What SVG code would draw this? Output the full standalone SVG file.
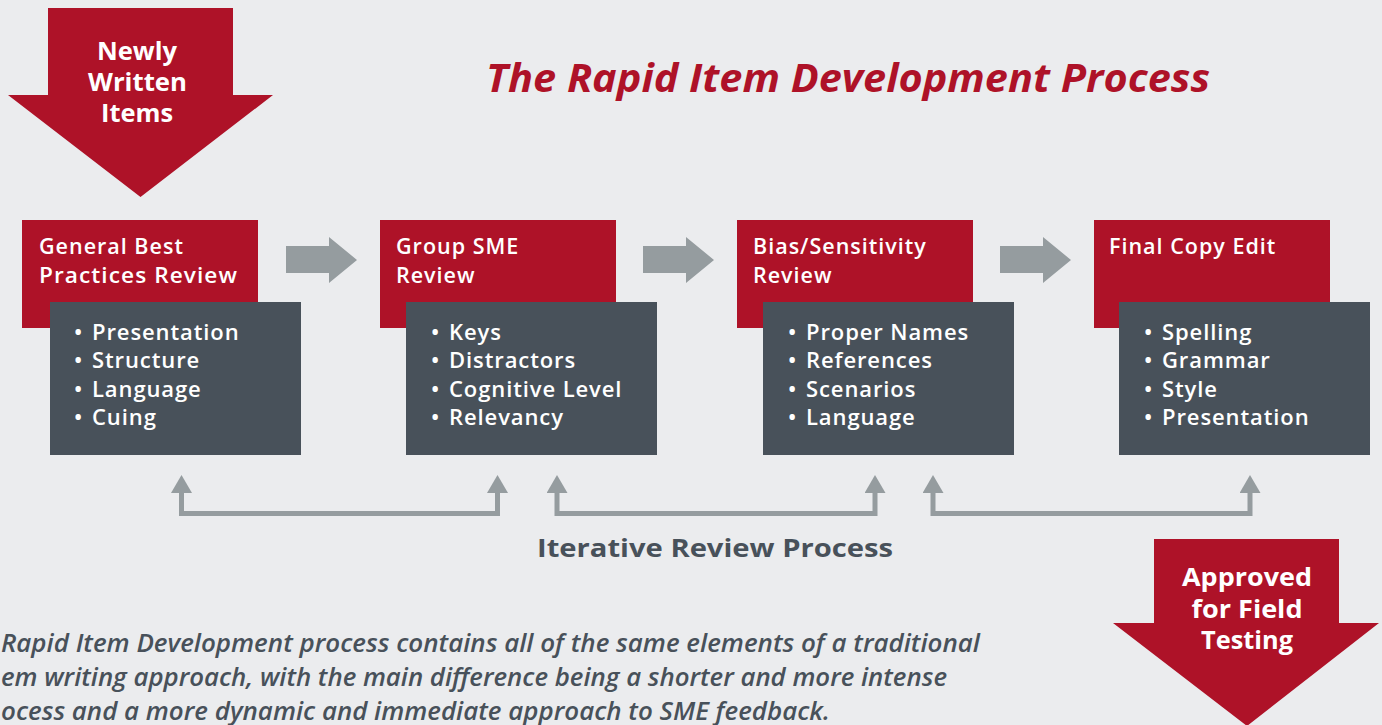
<svg xmlns="http://www.w3.org/2000/svg" width="1382" height="725" viewBox="0 0 1382 725">
<style>
.bg{fill:#ebecee}
.red{fill:#ae1228}
.dark{fill:#48515a}
.garrow{fill:#959c9f}
.head{font-family:"Open Sans","Liberation Sans",sans-serif;font-weight:600;font-size:21.5px;letter-spacing:1px;fill:#ffffff}
.bul{font-family:"Open Sans","Liberation Sans",sans-serif;font-weight:600;font-size:22px;letter-spacing:0.9px;fill:#ffffff}
.big{font-family:"Open Sans","Liberation Sans",sans-serif;font-weight:700;font-size:25px;fill:#ffffff;text-anchor:middle}
.title{font-family:"Open Sans","Liberation Sans",sans-serif;font-weight:700;font-style:italic;font-size:40px;fill:#ae1228}
.iter{font-family:"Open Sans","Liberation Sans",sans-serif;font-weight:700;font-size:25px;fill:#48515a}
.note{font-family:"Open Sans","Liberation Sans",sans-serif;font-weight:600;font-style:italic;font-size:25px;fill:#48515a}
.conn{fill:none;stroke:#959c9f;stroke-width:5}
</style>
<defs>
<marker id="up" markerUnits="userSpaceOnUse" viewBox="0 0 18 21" refX="0" refY="10.5" markerWidth="18" markerHeight="21" orient="auto-start-reverse">
<path d="M0,0 L18,10.5 L0,21 Z" fill="#959c9f"/>
</marker>
</defs>
<rect class="bg" x="0" y="0" width="1382" height="725"/>

<g id="newly-written-items">
<polygon class="red" points="48,8 233,8 233,95 273,95 140.5,197 8,95 48,95"/>
<text class="big" x="137" y="60" textLength="80" lengthAdjust="spacingAndGlyphs">Newly</text>
<text class="big" x="137.5" y="91" textLength="99" lengthAdjust="spacingAndGlyphs">Written</text>
<text class="big" x="137" y="122" textLength="72" lengthAdjust="spacingAndGlyphs">Items</text>
</g>

<g id="title">
<text class="title" x="486" y="92" textLength="724" lengthAdjust="spacingAndGlyphs">The Rapid Item Development Process</text>
</g>

<g id="step1">
<rect class="red" x="22" y="220" width="236" height="108"/>
<rect class="dark" x="50" y="302" width="251" height="153"/>
<text class="head" x="39" y="254">General Best</text>
<text class="head" x="39" y="283" textLength="199" lengthAdjust="spacingAndGlyphs">Practices Review</text>
<text class="bul" x="74" y="340">•<tspan x="92">Presentation</tspan></text>
<text class="bul" x="74" y="368">•<tspan x="92">Structure</tspan></text>
<text class="bul" x="74" y="397">•<tspan x="92">Language</tspan></text>
<text class="bul" x="74" y="425">•<tspan x="92">Cuing</tspan></text>
</g>

<g id="step2">
<rect class="red" x="380" y="220" width="236" height="108"/>
<rect class="dark" x="406" y="302" width="251" height="153"/>
<text class="head" x="396" y="254">Group SME</text>
<text class="head" x="396" y="283">Review</text>
<text class="bul" x="431" y="340">•<tspan x="449">Keys</tspan></text>
<text class="bul" x="431" y="368">•<tspan x="449">Distractors</tspan></text>
<text class="bul" x="431" y="397">•<tspan x="449">Cognitive Level</tspan></text>
<text class="bul" x="431" y="425">•<tspan x="449">Relevancy</tspan></text>
</g>

<g id="step3">
<rect class="red" x="737" y="220" width="236" height="108"/>
<rect class="dark" x="763" y="302" width="251" height="153"/>
<text class="head" x="753" y="254">Bias/Sensitivity</text>
<text class="head" x="753" y="283">Review</text>
<text class="bul" x="788" y="340">•<tspan x="806">Proper Names</tspan></text>
<text class="bul" x="788" y="368">•<tspan x="806">References</tspan></text>
<text class="bul" x="788" y="397">•<tspan x="806">Scenarios</tspan></text>
<text class="bul" x="788" y="425">•<tspan x="806">Language</tspan></text>
</g>

<g id="step4">
<rect class="red" x="1094" y="220" width="236" height="108"/>
<rect class="dark" x="1119" y="302" width="251" height="153"/>
<text class="head" x="1109" y="254">Final Copy Edit</text>
<text class="bul" x="1144" y="340">•<tspan x="1162">Spelling</tspan></text>
<text class="bul" x="1144" y="368">•<tspan x="1162">Grammar</tspan></text>
<text class="bul" x="1144" y="397">•<tspan x="1162">Style</tspan></text>
<text class="bul" x="1144" y="425">•<tspan x="1162">Presentation</tspan></text>
</g>

<g id="connectors">
<polygon class="garrow" points="286,246 329,246 329,237 357,260 329,283 329,273 286,273"/>
<polygon class="garrow" points="643,246 686,246 686,237 714,260 686,283 686,273 643,273"/>
<polygon class="garrow" points="1000,246 1043,246 1043,237 1071,260 1043,283 1043,273 1000,273"/>
<path class="conn" d="M181.5,493 V513.5 H497.5 V493" marker-start="url(#up)" marker-end="url(#up)"/>
<path class="conn" d="M557,493 V513.5 H875 V493" marker-start="url(#up)" marker-end="url(#up)"/>
<path class="conn" d="M933,493 V513.5 H1250 V493" marker-start="url(#up)" marker-end="url(#up)"/>
</g>

<g id="iterative-label">
<text class="iter" x="537" y="557" textLength="356" lengthAdjust="spacingAndGlyphs">Iterative Review Process</text>
</g>

<g id="approved">
<polygon class="red" points="1154,539 1339,539 1339,623 1379,623 1247,726 1113,623 1154,623"/>
<text class="big" x="1247" y="586" textLength="130" lengthAdjust="spacingAndGlyphs">Approved</text>
<text class="big" x="1247" y="618" textLength="111" lengthAdjust="spacingAndGlyphs">for Field</text>
<text class="big" x="1247" y="649" textLength="92" lengthAdjust="spacingAndGlyphs">Testing</text>
</g>

<g id="note">
<text class="note" x="1" y="652" textLength="979" lengthAdjust="spacingAndGlyphs">Rapid Item Development process contains all of the same elements of a traditional</text>
<text class="note" x="1" y="686" textLength="946" lengthAdjust="spacingAndGlyphs">em writing approach, with the main difference being a shorter and more intense</text>
<text class="note" x="1" y="720" textLength="829" lengthAdjust="spacingAndGlyphs">ocess and a more dynamic and immediate approach to SME feedback.</text>
</g>
</svg>
